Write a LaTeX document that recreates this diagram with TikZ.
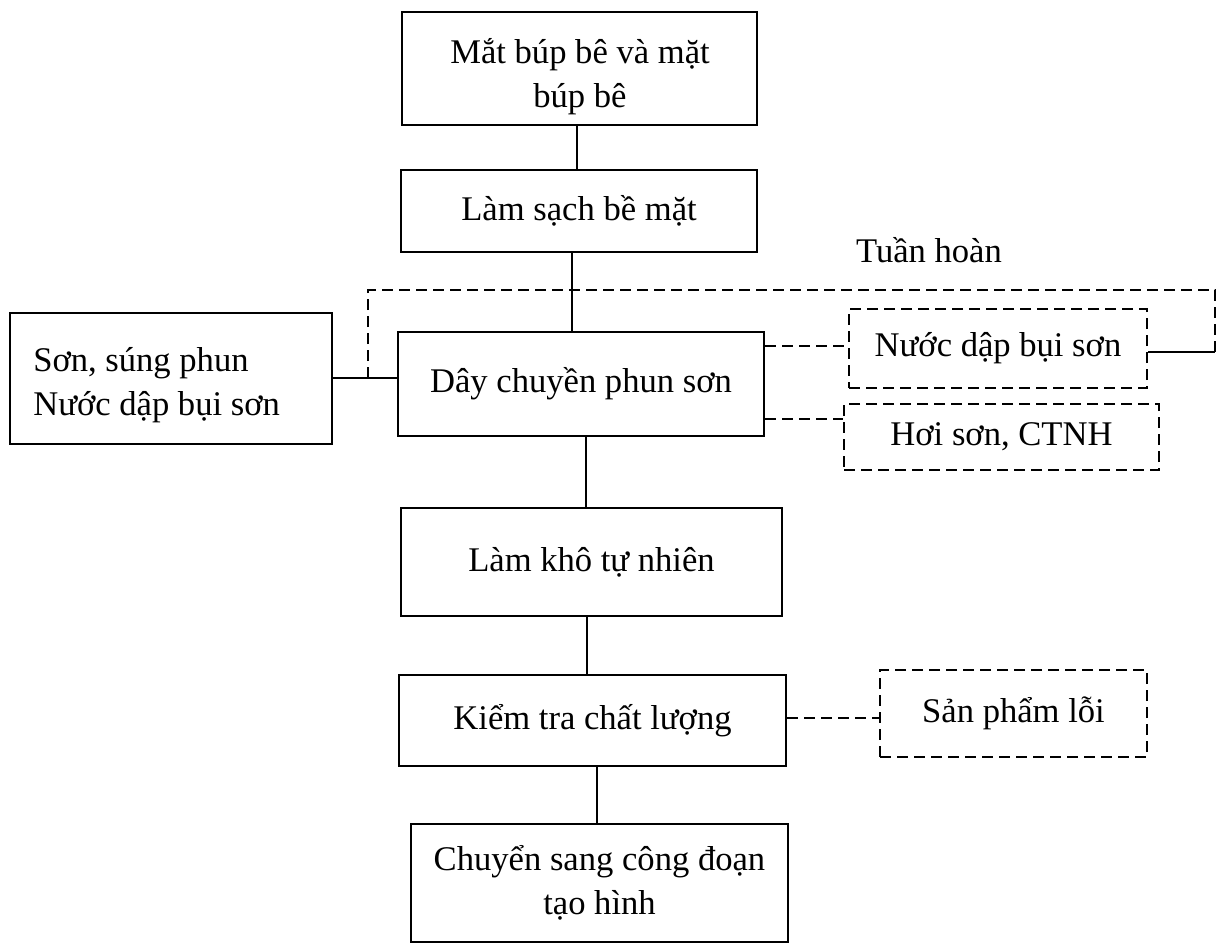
\documentclass[tikz,border=0pt]{standalone}
\usepackage{fontspec}
\setmainfont{Liberation Serif}
\tikzset{
  txt/.style={inner sep=0pt, align=center, font=\fontsize{17.3}{22}\selectfont},
  box/.style={txt, draw, line width=1.3pt},
  dbox/.style={box, dash pattern=on 5.5pt off 3pt},
  dline/.style={line width=1.3pt, dash pattern=on 5.5pt off 3pt},
}
\begin{document}
\begin{tikzpicture}[x=0.5pt, y=-0.5pt, line width=1.3pt]
  \useasboundingbox (0,0) rectangle (1223,944);
  \node[box, minimum width=177.5pt, minimum height=56.5pt] (mat) at (579.5,68.5) {};
  \node[txt] (matt) at (580,77) {Mắt búp bê và mặt\\búp bê};
  \node[box, minimum width=178pt, minimum height=41pt] (lamsach) at (579,211) {Làm sạch bề mặt};
  \node[box, minimum width=161pt, minimum height=65.5pt] (son) at (171,378.5) {};
  \node[txt, align=left, anchor=west] (sont) at (32,385) {Sơn, súng phun\\Nước dập bụi sơn};
  \node[box, minimum width=183pt, minimum height=52pt] (day) at (581,384) {Dây chuyền phun sơn};
  \node[dbox, minimum width=149pt, minimum height=39.5pt] (nuoc) at (998,348.5) {Nước dập bụi sơn};
  \node[dbox, minimum width=157.5pt, minimum height=33pt] (hoi) at (1001.5,437) {Hơi sơn, CTNH};
  \node[box, minimum width=190.5pt, minimum height=54pt] (lamkho) at (591.5,562) {Làm khô tự nhiên};
  \node[box, minimum width=193.5pt, minimum height=45.5pt] (kiem) at (592.5,720.5) {Kiểm tra chất lượng};
  \node[dbox, minimum width=133.5pt, minimum height=43.5pt] (loi) at (1013.5,713.5) {Sản phẩm lỗi};
  \node[box, minimum width=188.5pt, minimum height=59pt] (chuyen) at (599.5,883) {Chuyển sang công đoạn\\tạo hình};
  \node[txt] (tuan) at (929,250) {Tuần hoàn};

  % main line
  \draw (mat.south -| 577,0) -- (lamsach.north -| 577,0);
  \draw (lamsach.south -| 572,0) -- (day.north -| 572,0);
  \draw (day.south -| 586,0) -- (lamkho.north -| 586,0);
  \draw (lamkho.south -| 587,0) -- (kiem.north -| 587,0);
  \draw (kiem.south -| 597,0) -- (chuyen.north -| 597,0);

  % inputs and loop
  \coordinate (vao) at (368,378);
  \coordinate (ve) at (1215,352);
  \draw (son.east |- vao) -- (day.west |- vao);
  \draw[dline] (vao) -- (vao |- 0,290) -| (ve);
  \draw (nuoc.east |- ve) -- (ve);

  % outputs
  \draw[dline] (day.east |- 0,346) -- (nuoc.west |- 0,346);
  \draw[dline] (day.east |- 0,419) -- (hoi.west |- 0,419);
  \draw[dline] (kiem.east |- 0,718) -- (loi.west |- 0,718);
\end{tikzpicture}
\end{document}
